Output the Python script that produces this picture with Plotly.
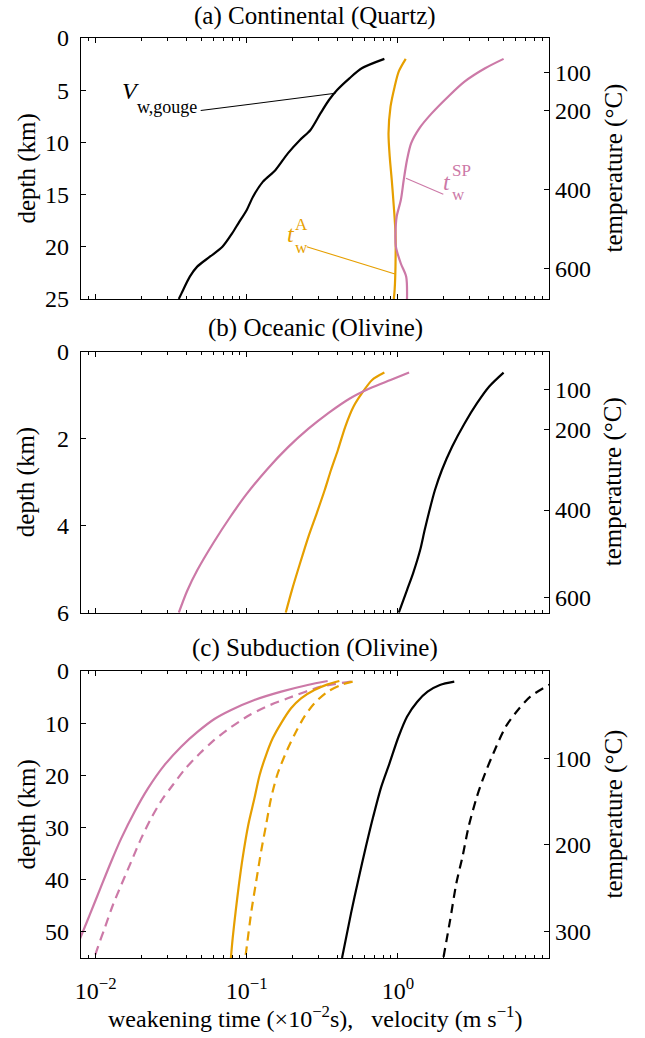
import numpy as np
import plotly.graph_objects as go

# ---------------- data ----------------
# (a) Continental (Quartz): depth in km, x in weakening time (x1e-2 s) or velocity (m/s)
a_depth_v = [2.0, 2.9, 3.86, 4.98, 5.94, 7.2, 8.81, 9.77, 11.05, 12.64, 13.76, 15.2, 16.47,
             17.75, 18.71, 19.99, 20.95, 21.9, 22.86, 24.46, 25.0]
a_v_gouge = [0.814, 0.577, 0.478, 0.396, 0.350, 0.308, 0.264, 0.225, 0.187, 0.155, 0.128, 0.110,
             0.100, 0.088, 0.080, 0.069, 0.057, 0.047, 0.042, 0.037, 0.0355]
a_depth_A = [2.0, 3.2, 4.66, 6.58, 9.13, 11.37, 13.6, 16.16, 18.7, 21.9, 24.1, 25.0]
a_tw_A = [1.127, 1.014, 0.952, 0.894, 0.867, 0.883, 0.911, 0.940, 0.964, 0.964, 0.952, 0.940]
a_depth_SP = [2.0, 2.9, 4.18, 5.62, 7.22, 8.65, 10.09, 11.69, 13.6, 15.52, 17.1, 18.7, 19.99,
              21.6, 22.86, 25.0]
a_tw_SP = [5.006, 3.777, 2.761, 2.149, 1.673, 1.387, 1.223, 1.149, 1.093, 1.046, 0.982, 0.964,
           0.970, 1.046, 1.135, 1.149]

# (b) Oceanic (Olivine)
b_depth_v = [0.48, 0.80, 1.19, 1.65, 2.18, 2.72, 3.18, 3.64, 4.10, 4.56, 5.09, 5.48, 6.0]
b_v_gouge = [5.006, 4.021, 3.332, 2.761, 2.288, 1.956, 1.759, 1.621, 1.504, 1.404, 1.262, 1.149, 1.014]
b_depth_A = [0.48, 0.65, 0.96, 1.26, 1.72, 2.26, 2.72, 3.18, 3.72, 4.25, 4.87, 5.48, 6.0]
b_tw_A = [0.814, 0.675, 0.577, 0.509, 0.449, 0.401, 0.361, 0.328, 0.290, 0.256, 0.225, 0.199, 0.181]
b_depth_SP = [0.48, 0.65, 0.84, 1.08, 1.40, 1.77, 2.20, 2.70, 3.27, 3.80, 4.38, 5.02, 5.50, 6.0]
b_tw_SP = [1.186, 0.894, 0.654, 0.478, 0.350, 0.256, 0.187, 0.1366, 0.0999, 0.0777, 0.0605,
           0.0471, 0.0403, 0.0355]

# (c) Subduction (Olivine): solid and dashed cases
c_depth_v = [2.04, 2.68, 3.96, 5.88, 8.75, 12.6, 17.7, 22.2, 27.9, 33.7, 40.05, 46.4, 55.0]
c_v_gouge = [2.361, 1.896, 1.572, 1.344, 1.149, 1.010, 0.880, 0.776, 0.687, 0.614, 0.547, 0.490, 0.427]
c_depth_v_d = [2.0, 2.68, 4.92, 7.47, 10.7, 15.8, 19.6, 24.1, 29.8, 35.6, 40.7, 47.7, 55.0]
c_v_gouge_d = [11.2, 9.97, 7.52, 6.23, 5.166, 4.28, 3.777, 3.332, 2.940, 2.676, 2.436, 2.218, 2.000]
c_depth_A = [1.92, 2.56, 3.64, 5.24, 7.15, 10.03, 12.9, 16.1, 19.93, 24.4, 29.5, 35.9, 41.0,
             46.1, 51.2, 55.06]
c_tw_A = [0.410, 0.343, 0.280, 0.2286, 0.1963, 0.1686, 0.1485, 0.1342, 0.1217, 0.1124, 0.1023,
          0.0938, 0.0887, 0.0844, 0.0807, 0.0785]
c_depth_A_d = [2.04, 2.68, 3.96, 6.2, 8.75, 12.26, 16.1, 19.93, 24.4, 29.5, 34.6, 40.4, 46.1,
               53.8, 55.06]
c_tw_A_d = [0.502, 0.420, 0.343, 0.280, 0.2405, 0.2065, 0.1790, 0.1590, 0.1448, 0.1342, 0.1244,
            0.1153, 0.1072, 0.0990, 0.0975]
c_depth_SP = [1.92, 2.68, 3.96, 5.56, 7.47, 9.2, 11.63, 14.5, 18.0, 22.5, 26.96, 32.07, 36.5,
              41.6, 46.8, 50.0, 53.0]
c_tw_SP = [0.343, 0.253, 0.169, 0.1124, 0.0788, 0.0611, 0.0474, 0.0368, 0.0286, 0.0222, 0.0181,
           0.01477, 0.01268, 0.01076, 0.00912, 0.00822, 0.00746]
c_depth_SP_d = [2.04, 3.0, 5.24, 6.52, 8.43, 11.3, 13.54, 15.78, 18.65, 21.85, 24.72, 28.23,
                32.07, 36.54, 41.0, 44.84, 49.3, 53.8, 55.06]
c_tw_SP_d = [0.489, 0.310, 0.1866, 0.1429, 0.1045, 0.0741, 0.0592, 0.0490, 0.0394, 0.0324,
             0.0274, 0.0233, 0.02002, 0.01719, 0.01477, 0.01301, 0.01147, 0.01010, 0.00984]

# axis ticks
x_range = [0.008, 10]
x_major = [0.01, 0.1, 1]
x_major_text = ["10<sup>\u22122</sup>", "10<sup>\u22121</sup>", "10<sup>0</sup>"]
x_minor = [0.009] + [m * 10.0 ** e for e in (-2, -1, 0) for m in range(2, 10)]

a_depth_ticks = [0, 5, 10, 15, 20, 25]
b_depth_ticks = [0, 2, 4, 6]
c_depth_ticks = [0, 10, 20, 30, 40, 50]
a_depth_range = [25, 0]
b_depth_range = [6, 0]
c_depth_range = [55, 0]

# temperature labels on the right axis and the depths where they fall (geotherms)
a_temp_labels = ["100", "200", "400", "600"]
a_temp_depth = [3.28, 6.97, 14.49, 22.06]
b_temp_labels = ["100", "200", "400", "600"]
b_temp_depth = [0.88, 1.78, 3.64, 5.65]
c_temp_labels = ["100", "200", "300"]
c_temp_depth = [16.7, 33.3, 50.0]

panel_titles = ["(a) Continental (Quartz)", "(b) Oceanic (Olivine)", "(c) Subduction (Olivine)"]

BLACK = "#000000"
ORANGE = "#E69F00"
PINK = "#CC79A7"

# ---------------- layout geometry (pixels) ----------------
W, H = 645, 1038
ML, MR, MT, MB = 81, 96, 38, 80
PW, PH = W - ML - MR, H - MT - MB


def pyp(py):
    return 1 - (py - MT) / PH


def pxp(px):
    return (px - ML) / PW


panel_px = [(38, 299), (351.7, 612.7), (671, 958)]  # top, bottom pixel rows
FONT = "Liberation Serif"
FS = 24      # tick labels
FS_T = 25    # titles / axis labels

fig = go.Figure()

LW = 2.2
DASH = "9px,6px"


def add_line(x, y, color, ax, dash="solid"):
    fig.add_trace(go.Scatter(x=x, y=y, mode="lines", xaxis=ax[0], yaxis=ax[1],
                             line=dict(color=color, width=LW, dash=dash, shape="spline", smoothing=0.8),
                             showlegend=False, hoverinfo="skip"))


# panel a
add_line(a_v_gouge, a_depth_v, BLACK, ("x", "y"))
add_line(a_tw_A, a_depth_A, ORANGE, ("x", "y"))
add_line(a_tw_SP, a_depth_SP, PINK, ("x", "y"))
# panel b
add_line(b_v_gouge, b_depth_v, BLACK, ("x2", "y2"))
add_line(b_tw_A, b_depth_A, ORANGE, ("x2", "y2"))
add_line(b_tw_SP, b_depth_SP, PINK, ("x2", "y2"))
# panel c
add_line(c_tw_SP, c_depth_SP, PINK, ("x3", "y3"))
add_line(c_tw_SP_d, c_depth_SP_d, PINK, ("x3", "y3"), DASH)
add_line(c_tw_A, c_depth_A, ORANGE, ("x3", "y3"))
add_line(c_tw_A_d, c_depth_A_d, ORANGE, ("x3", "y3"), DASH)
add_line(c_v_gouge, c_depth_v, BLACK, ("x3", "y3"))
add_line(c_v_gouge_d, c_depth_v_d, BLACK, ("x3", "y3"), DASH)

# dummy traces so the temperature axes exist
for ax in (("x", "y4"), ("x2", "y5"), ("x3", "y6")):
    fig.add_trace(go.Scatter(x=[None], y=[None], xaxis=ax[0], yaxis=ax[1], showlegend=False,
                             hoverinfo="skip"))

tickfont = dict(family=FONT, size=FS, color="black")

layout = dict(
    width=W, height=H, margin=dict(l=ML, r=MR, t=MT, b=MB, autoexpand=False),
    paper_bgcolor="white", plot_bgcolor="white", showlegend=False,
    font=dict(family=FONT, size=FS, color="black"),
)

depth_ranges = [a_depth_range, b_depth_range, c_depth_range]
depth_ticks = [a_depth_ticks, b_depth_ticks, c_depth_ticks]
temp_depths = [a_temp_depth, b_temp_depth, c_temp_depth]
temp_labels = [a_temp_labels, b_temp_labels, c_temp_labels]

for i in range(3):
    top, bot = panel_px[i]
    dom = [max(0.0, pyp(bot)), min(1.0, pyp(top))]
    xs = "" if i == 0 else str(i + 1)
    ys = "" if i == 0 else str(i + 1)
    layout["xaxis" + xs] = dict(
        type="log", range=[np.log10(x_range[0]), np.log10(x_range[1])], domain=[0, 1],
        anchor="y" + ys, showline=True, linecolor="black", linewidth=1.3, mirror="ticks",
        ticks="inside", ticklen=5, tickwidth=1, tickcolor="black",
        tickvals=x_major, ticktext=x_major_text, showticklabels=(i == 2),
        tickfont=tickfont, ticklabelstandoff=11,
        minor=dict(tickvals=x_minor, ticks="inside", ticklen=3, tickwidth=1, tickcolor="black",
                   showgrid=False),
        showgrid=False, zeroline=False,
    )
    layout["yaxis" + ys] = dict(
        domain=dom, anchor="x" + xs, range=depth_ranges[i], tickvals=depth_ticks[i],
        showline=True, linecolor="black", linewidth=1.3, mirror=True,
        ticks="inside", ticklen=5, tickwidth=1, tickcolor="black", tickfont=tickfont,
        ticklabelstandoff=6, showgrid=False, zeroline=False,
    )
    layout["yaxis" + str(i + 4)] = dict(
        overlaying="y" + ys, anchor="x" + xs, side="right", range=depth_ranges[i],
        tickvals=temp_depths[i], ticktext=temp_labels[i], ticks="inside", ticklen=5,
        tickwidth=1, tickcolor="black", tickfont=tickfont, ticklabelstandoff=5,
        showline=False, showgrid=False, zeroline=False,
    )

fig.update_layout(**layout)

ann = []
# panel titles (top edge of text box, px) and axis labels
title_top = [0.5, 313.0, 633.0]
for i in range(3):
    top, bot = panel_px[i]
    mid = (top + bot) / 2
    ann.append(dict(text=panel_titles[i], x=pxp(315), y=pyp(title_top[i]), xref="paper",
                    yref="paper", xanchor="center", yanchor="top", showarrow=False,
                    borderpad=0, font=dict(family=FONT, size=FS_T)))
    ann.append(dict(text="depth (km)", x=pxp(26), y=pyp(mid), xref="paper", yref="paper",
                    xanchor="center", yanchor="middle", textangle=-90, showarrow=False,
                    font=dict(family=FONT, size=FS_T)))
    ann.append(dict(text="temperature (\u00b0C)", x=pxp(613), y=pyp(mid), xref="paper",
                    yref="paper", xanchor="center", yanchor="middle", textangle=-90,
                    showarrow=False, font=dict(family=FONT, size=FS_T)))

ann.append(dict(text="weakening time (\u00d710<sup>\u22122</sup>s),\u00a0\u00a0\u00a0velocity (m s<sup>\u22121</sup>)",
                x=pxp(315), y=pyp(1017), xref="paper", yref="paper", xanchor="center",
                yanchor="middle", showarrow=False, font=dict(family=FONT, size=FS)))

# curve labels in panel (a): (text, px_left, py_middle, size, color)
labels = [
    ("<i>V</i>", 121.5, 91.2, 24, BLACK),
    ("w,gouge", 137.3, 106.6, 18, BLACK),
    ("<i>t</i>", 442.5, 182.0, 24, PINK),
    ("SP", 451.7, 170.0, 17, PINK),
    ("w", 451.7, 194.3, 17, PINK),
    ("<i>t</i>", 286.5, 234.2, 24, ORANGE),
    ("A", 295.0, 224.3, 17, ORANGE),
    ("w", 294.5, 247.6, 17, ORANGE),
]
for t, px, py, fs, col in labels:
    ann.append(dict(text=t, x=pxp(px), y=pyp(py), xref="paper", yref="paper", xanchor="left",
                    yanchor="middle", showarrow=False, borderpad=0, borderwidth=0,
                    font=dict(family=FONT, size=fs, color=col)))

fig.update_layout(annotations=ann)

# leader lines (pixel endpoints)
leaders = [
    ((200.7, 110.5), (335.4, 93.3), BLACK),
    ((443.3, 194.3), (406.0, 178.3), PINK),
    ((306.7, 246.7), (395.0, 274.0), ORANGE),
]
for (x0, y0), (x1, y1), col in leaders:
    fig.add_shape(type="line", xref="paper", yref="paper", x0=pxp(x0), y0=pyp(y0),
                  x1=pxp(x1), y1=pyp(y1), line=dict(color=col, width=1.1))

fig.write_html("out.html")
